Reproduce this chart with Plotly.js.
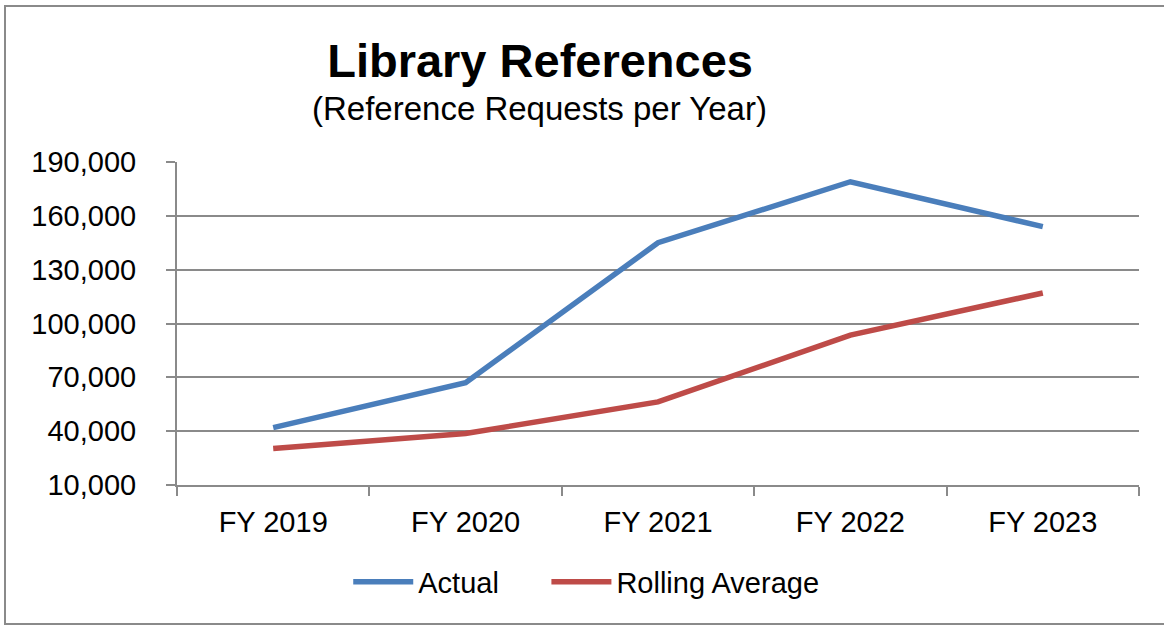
<!DOCTYPE html>
<html>
<head>
<meta charset="utf-8">
<script src="https://cdn.plot.ly/plotly-3.0.1.min.js"></script>
<style>
  html, body { margin: 0; padding: 0; background: #fff; overflow: hidden; }
  #frame { position: absolute; left: 4px; top: 5px; width: 1180px; height: 620px; border: 2px solid #8a8a8a; box-sizing: border-box; pointer-events: none; z-index: 5; }
  #chart { position: absolute; left: 0; top: 0; width: 1164px; height: 629px; }
</style>
</head>
<body>
<div id="chart"></div>
<div id="frame"></div>
<script>
const categories = ["FY 2019", "FY 2020", "FY 2021", "FY 2022", "FY 2023"];
const actual = [42000, 67000, 145000, 179000, 154000];
const rollingAverage = [30300, 38700, 56300, 93500, 117000];
const yTicks = [10000, 40000, 70000, 100000, 130000, 160000, 190000];

const FONT = "Arial, 'Liberation Sans', sans-serif";

const traces = [
  { x: categories, y: actual, name: "Actual", type: "scatter", mode: "lines",
    line: { color: "#4A7EBB", width: 5.5 }, legend: "legend" },
  { x: categories, y: rollingAverage, name: "Rolling Average", type: "scatter", mode: "lines",
    line: { color: "#BE4B48", width: 5.5 }, legend: "legend2" }
];

const legendBase = {
  orientation: "h",
  xanchor: "left",
  y: -0.30, yanchor: "middle",
  font: { family: FONT, size: 29, color: "#000" },
  itemwidth: 60,
  bgcolor: "rgba(0,0,0,0)"
};

const layout = {
  width: 1164, height: 629,
  paper_bgcolor: "#ffffff", plot_bgcolor: "#ffffff",
  margin: { l: 177, r: 25, t: 162, b: 144 },
  font: { family: FONT, color: "#000000", size: 29 },
  title: {
    text: "<b>Library References</b>",
    font: { family: FONT, size: 47, color: "#000" },
    x: 0.464, xanchor: "center", xref: "container",
    y: 0.93, yanchor: "top", yref: "container"
  },
  annotations: [{
    text: "(Reference Requests per Year)",
    xref: "paper", yref: "paper",
    x: 0.377, y: 1.167, xanchor: "center", yanchor: "middle",
    showarrow: false,
    font: { family: FONT, size: 33, color: "#000" }
  }],
  xaxis: {
    type: "category",
    range: [-0.5, 4.5],
    tickson: "boundaries",
    ticks: "outside", ticklen: 9, tickwidth: 2, tickcolor: "#8a8a8a",
    showline: true, linecolor: "#8a8a8a", linewidth: 2,
    showgrid: false, zeroline: false,
    tickfont: { family: FONT, size: 29, color: "#000" },
    ticklabelstandoff: 10,
    fixedrange: true
  },
  yaxis: {
    range: [10000, 190000],
    tickvals: yTicks,
    tickformat: ",",
    ticks: "outside", ticklen: 9, tickwidth: 2, tickcolor: "#8a8a8a",
    showline: true, linecolor: "#8a8a8a", linewidth: 2,
    showgrid: true, gridcolor: "#8a8a8a", gridwidth: 2,
    zeroline: false,
    tickfont: { family: FONT, size: 29, color: "#000" },
    ticklabelstandoff: 24,
    fixedrange: true
  },
  showlegend: true,
  legend: Object.assign({}, legendBase, { x: 0.178 }),
  legend2: Object.assign({}, legendBase, { x: 0.384 })
};

Plotly.newPlot("chart", traces, layout, { displayModeBar: false, staticPlot: true });
</script>
</body>
</html>
